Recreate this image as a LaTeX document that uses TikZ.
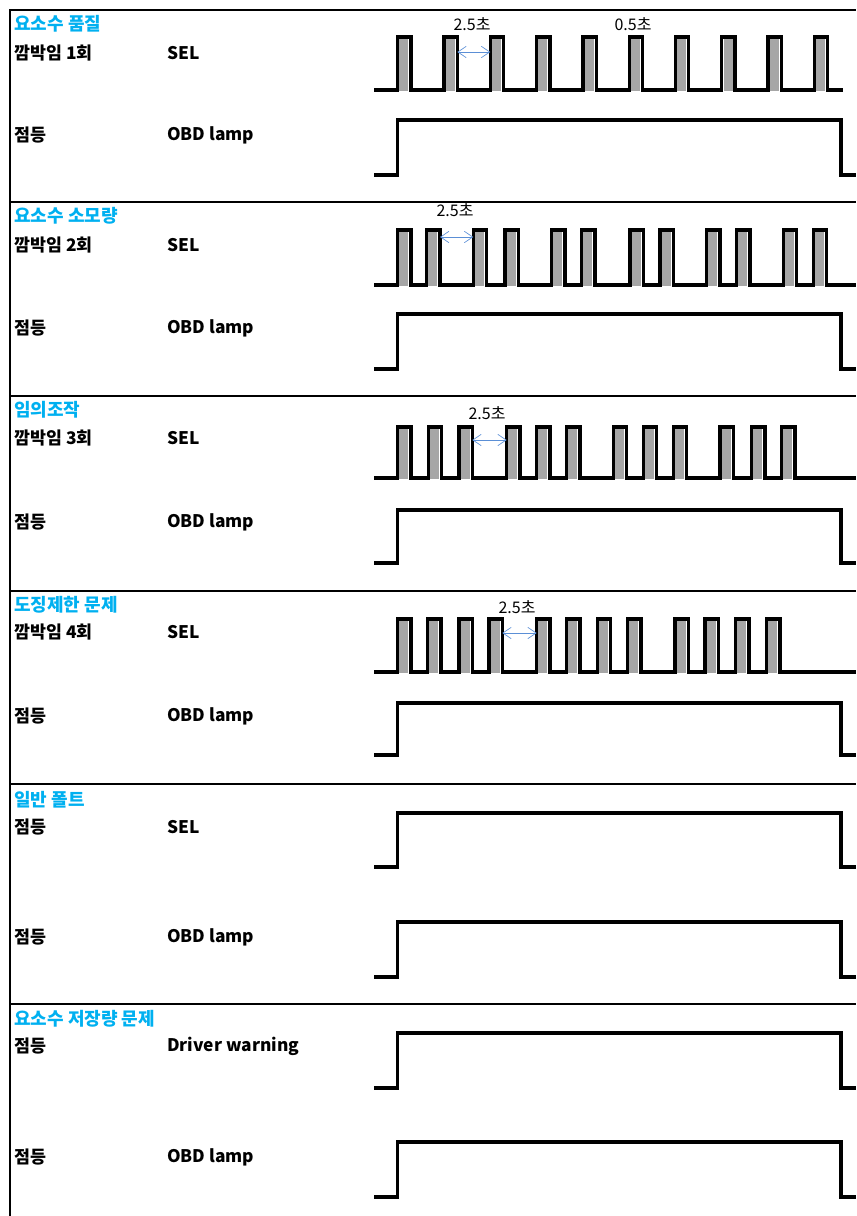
\documentclass[tikz,border=0pt]{standalone}
\usepackage{fontspec}
\setmainfont{Noto Sans CJK KR}
\usetikzlibrary{arrows.meta}
\definecolor{headcyan}{HTML}{00B0F0}
\definecolor{gapblue}{HTML}{5B8FD6}
\definecolor{pulsegray}{HTML}{A6A6A6}
\tikzset{
  headlab/.style={anchor=west, inner sep=0pt, text=headcyan, font=\bfseries\fontsize{13.5}{15}\selectfont},
  rowlab/.style={anchor=west, inner sep=0pt, font=\bfseries\fontsize{13}{15}\selectfont},
  timelab/.style={inner sep=0pt, font=\fontsize{12}{14}\selectfont},
  frameline/.style={line width=2pt},
  sigline/.style={line width=2.5pt, line join=miter},
  gaparr/.style={{Straight Barb[length=2.2mm,width=3mm]}-{Straight Barb[length=2.2mm,width=3mm]}, gapblue, line width=0.5pt},
}
\begin{document}
\begin{tikzpicture}[x=0.75pt, y=-0.75pt]
  \useasboundingbox (0,0) rectangle (856,1216);
  % frame
  \draw[frameline] (10,1216) -- (10,10) -- (856,10);
  \foreach \y in {202,396,591,784,1004}
    \draw[frameline] (10,\y) -- (856,\y);

  % section 1
  \node[headlab] (h1) at (14,24) {요소수 품질};
  \node[rowlab] (r1a) at (14,53) {깜박임 1회};
  \node[rowlab] (s1a) at (167,53) {SEL};
  \node[rowlab] (r1b) at (14,135) {점등};
  \node[rowlab] (s1b) at (167,135) {OBD lamp};
  \foreach \a in {397.7,444,490.3,536.6,582.9,629.2,675.5,721.8,768.1,814.4}
    \fill[pulsegray] ({\a+1.7},39) rectangle ({\a+10.7},91);
  \draw[sigline] (374,90) foreach \a in {397.7,444,490.3,536.6,582.9,629.2,675.5,721.8,768.1,814.4}
    { -- (\a,90) -- (\a,37) -- ({\a+13.3},37) -- ({\a+13.3},90) } -- (843,90);
  \coordinate (g1a) at (457.3,52);
  \coordinate (g1b) at (490.3,52);
  \draw[gaparr] (g1a) -- (g1b);
  \node[timelab] (t1a) at (472,24) {2.5초};
  \node[timelab] (t1b) at (633,24) {0.5초};
  \draw[sigline] (374,175) -- (397.7,175) -- (397.7,120) -- (841,120) -- (841,175) -- (856,175);

  % section 2
  \node[headlab] (h2) at (14,216) {요소수 소모량};
  \node[rowlab] (r2a) at (14,245) {깜박임 2회};
  \node[rowlab] (s2a) at (167,245) {SEL};
  \node[rowlab] (r2b) at (14,328) {점등};
  \node[rowlab] (s2b) at (167,328) {OBD lamp};
  \foreach \a in {397.7,426.7,473.3,505,551.7,581.7,630,660,706.7,736.7,783.3,813.3}
    \fill[pulsegray] ({\a+1.7},232) rectangle ({\a+10.7},286);
  \draw[sigline] (374,285) foreach \a in {397.7,426.7,473.3,505,551.7,581.7,630,660,706.7,736.7,783.3,813.3}
    { -- (\a,285) -- (\a,230) -- ({\a+13.3},230) -- ({\a+13.3},285) } -- (856,285);
  \coordinate (g2a) at (440,237);
  \coordinate (g2b) at (473.3,237);
  \draw[gaparr] (g2a) -- (g2b);
  \node[timelab] (t2a) at (455,210) {2.5초};
  \draw[sigline] (374,369) -- (397.7,369) -- (397.7,314) -- (841,314) -- (841,369) -- (856,369);

  % section 3
  \node[headlab] (h3) at (14,410) {임의조작};
  \node[rowlab] (r3a) at (14,438) {깜박임 3회};
  \node[rowlab] (s3a) at (167,438) {SEL};
  \node[rowlab] (r3b) at (14,522) {점등};
  \node[rowlab] (s3b) at (167,522) {OBD lamp};
  \foreach \a in {397.7,428.3,459,506.7,536.7,566.7,613.3,643.3,673.3,720,751.7,781.7}
    \fill[pulsegray] ({\a+1.7},429) rectangle ({\a+10.7},479);
  \draw[sigline] (374,478) foreach \a in {397.7,428.3,459,506.7,536.7,566.7,613.3,643.3,673.3,720,751.7,781.7}
    { -- (\a,478) -- (\a,427) -- ({\a+13.3},427) -- ({\a+13.3},478) } -- (856,478);
  \coordinate (g3a) at (472.3,440);
  \coordinate (g3b) at (506.7,440);
  \draw[gaparr] (g3a) -- (g3b);
  \node[timelab] (t3a) at (487,413) {2.5초};
  \draw[sigline] (374,563) -- (397.7,563) -- (397.7,510) -- (841,510) -- (841,563) -- (856,563);

  % section 4
  \node[headlab] (h4) at (14,605) {도징제한 문제};
  \node[rowlab] (r4a) at (14,632) {깜박임 4회};
  \node[rowlab] (s4a) at (167,632) {SEL};
  \node[rowlab] (r4b) at (14,716) {점등};
  \node[rowlab] (s4b) at (167,716) {OBD lamp};
  \foreach \a in {397.7,427.7,459,489,536.7,566.7,597.3,627.7,675,705,735.7,766.7}
    \fill[pulsegray] ({\a+1.7},621) rectangle ({\a+10.7},673);
  \draw[sigline] (374,672) foreach \a in {397.7,427.7,459,489,536.7,566.7,597.3,627.7,675,705,735.7,766.7}
    { -- (\a,672) -- (\a,619) -- ({\a+13.3},619) -- ({\a+13.3},672) } -- (856,672);
  \coordinate (g4a) at (502.3,633);
  \coordinate (g4b) at (536.7,633);
  \draw[gaparr] (g4a) -- (g4b);
  \node[timelab] (t4a) at (517,607) {2.5초};
  \draw[sigline] (374,755) -- (397.7,755) -- (397.7,703) -- (841,703) -- (841,755) -- (856,755);

  % section 5
  \node[headlab] (h5) at (14,800) {일반 폴트};
  \node[rowlab] (r5a) at (14,827) {점등};
  \node[rowlab] (s5a) at (167,827) {SEL};
  \node[rowlab] (r5b) at (14,937) {점등};
  \node[rowlab] (s5b) at (167,937) {OBD lamp};
  \draw[sigline] (374,867) -- (397.7,867) -- (397.7,813) -- (841,813) -- (841,867) -- (856,867);
  \draw[sigline] (374,977) -- (397.7,977) -- (397.7,922) -- (841,922) -- (841,977) -- (856,977);

  % section 6
  \node[headlab] (h6) at (14,1019) {요소수 저장량 문제};
  \node[rowlab] (r6a) at (14,1046) {점등};
  \node[rowlab] (s6a) at (167,1046) {Driver warning};
  \node[rowlab] (r6b) at (14,1157) {점등};
  \node[rowlab] (s6b) at (167,1157) {OBD lamp};
  \draw[sigline] (374,1088) -- (397.7,1088) -- (397.7,1033) -- (841,1033) -- (841,1088) -- (856,1088);
  \draw[sigline] (374,1197) -- (397.7,1197) -- (397.7,1142) -- (841,1142) -- (841,1197) -- (856,1197);
\end{tikzpicture}
\end{document}
